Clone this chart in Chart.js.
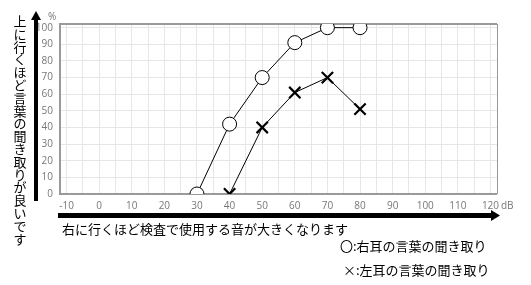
<!DOCTYPE html>
<html>
<head>
<meta charset="utf-8">
<script src="https://cdn.jsdelivr.net/npm/chart.js@4/dist/chart.umd.min.js"></script>
<style>
  html, body { margin: 0; padding: 0; background: #fff; }
  #wrap { width: 531px; height: 285px; position: relative; }
</style>
</head>
<body>
<div id="wrap"><canvas id="c" width="531" height="285"></canvas></div>
<script>
// 音の大きさ (dB)
const rightEarDb = [30, 40, 50, 60, 70, 80];
const rightEarPct = [0, 42, 70, 91, 100, 100];
const leftEarDb = [40, 50, 60, 70, 80];
const leftEarPct = [0, 40, 61, 70, 51];

const xTicks = [-10, 0, 10, 20, 30, 40, 50, 60, 70, 80, 90, 100, 110, 120];
const yTicks = [0, 10, 20, 30, 40, 50, 60, 70, 80, 90, 100];

const yText = '上に行くほど言葉の聞き取りが良いです';
const xText = '右に行くほど検査で使用する音が大きくなります';
const legendRight = '〇:右耳の言葉の聞き取り';
const legendLeft = '×:左耳の言葉の聞き取り';

const JP = '"Noto Sans CJK JP", sans-serif';

const toPoints = (xs, ys) => xs.map((x, i) => ({ x: x, y: ys[i] }));

const decorations = {
  id: 'decorations',
  beforeDatasetsDraw(chart) {
    const { ctx, chartArea: a } = chart;
    ctx.save();
    ctx.strokeStyle = '#9a9a9a';
    ctx.lineWidth = 2;
    ctx.beginPath();
    ctx.moveTo(a.right, a.top);
    ctx.lineTo(a.left, a.top);
    ctx.lineTo(a.left, a.bottom);
    ctx.lineTo(a.right, a.bottom);
    ctx.stroke();
    ctx.lineWidth = 1;
    ctx.beginPath();
    ctx.moveTo(a.right + 0.5, a.top);
    ctx.lineTo(a.right + 0.5, a.bottom);
    ctx.stroke();
    ctx.restore();
  },
  afterDraw(chart) {
    const { ctx } = chart;
    ctx.save();
    // units
    ctx.fillStyle = '#777';
    ctx.font = '10px "Open Sans", sans-serif';
    ctx.textBaseline = 'middle';
    ctx.textAlign = 'left';
    ctx.fillText('%', 48, 17);
    ctx.fillText('dB', 501, 206);

    // vertical arrow
    ctx.fillStyle = '#000';
    ctx.fillRect(34, 18, 4, 183);
    ctx.beginPath();
    ctx.moveTo(36, 11);
    ctx.lineTo(31, 20);
    ctx.lineTo(41, 20);
    ctx.closePath();
    ctx.fill();

    // horizontal arrow
    ctx.fillRect(58, 213, 435, 5);
    ctx.beginPath();
    ctx.moveTo(500, 215.5);
    ctx.lineTo(491, 210);
    ctx.lineTo(491, 221);
    ctx.closePath();
    ctx.fill();

    // texts
    ctx.font = '13px ' + JP;
    ctx.textAlign = 'center';
    ctx.textBaseline = 'middle';
    [...yText].forEach((ch, i) => ctx.fillText(ch, 20, 21 + i * 12.8));
    ctx.textAlign = 'left';
    ctx.fillText(xText, 62, 229);
    ctx.fillText(legendRight, 340, 246);
    ctx.fillText(legendLeft, 343, 270);
    ctx.restore();
  }
};

new Chart(document.getElementById('c'), {
  type: 'line',
  data: {
    datasets: [
      {
        label: '右耳',
        data: toPoints(rightEarDb, rightEarPct),
        borderColor: '#000',
        borderWidth: 1,
        pointStyle: 'circle',
        pointRadius: 7,
        pointBorderWidth: 1,
        pointBackgroundColor: '#fff',
        pointBorderColor: '#000',
        tension: 0
      },
      {
        label: '左耳',
        data: toPoints(leftEarDb, leftEarPct),
        borderColor: '#000',
        borderWidth: 1,
        pointStyle: 'crossRot',
        pointRadius: 8,
        pointBorderWidth: 2.2,
        pointBorderColor: '#000',
        tension: 0
      }
    ]
  },
  options: {
    responsive: false,
    animation: false,
    devicePixelRatio: 1,
    layout: { padding: { left: 30, top: 24, right: 34, bottom: 69 } },
    plugins: { legend: { display: false }, tooltip: { enabled: false } },
    scales: {
      x: {
        type: 'linear',
        min: -12,
        max: 122,
        afterBuildTicks: s => {
          const t = [];
          for (let v = -10; v <= 120; v += 5) t.push({ value: v });
          s.ticks = t;
        },
        afterFit: s => { s.height = 22; },
        ticks: {
          autoSkip: false,
          maxRotation: 0,
          padding: 6,
          color: '#777',
          font: { size: 10, family: '"Open Sans", sans-serif' },
          callback: v => (xTicks.includes(v) ? String(v) : '')
        },
        grid: { color: '#e6e6e6', lineWidth: 1, drawTicks: false },
        border: { display: false }
      },
      y: {
        type: 'linear',
        min: 0,
        max: 102.2,
        afterBuildTicks: s => { s.ticks = yTicks.map(v => ({ value: v })); },
        afterFit: s => { s.width = 30; },
        ticks: {
          autoSkip: false,
          padding: 7,
          color: '#777',
          font: { size: 10, family: '"Open Sans", sans-serif' }
        },
        grid: { color: '#e6e6e6', lineWidth: 1, drawTicks: false },
        border: { display: false }
      }
    }
  },
  plugins: [decorations]
});
</script>
</body>
</html>
